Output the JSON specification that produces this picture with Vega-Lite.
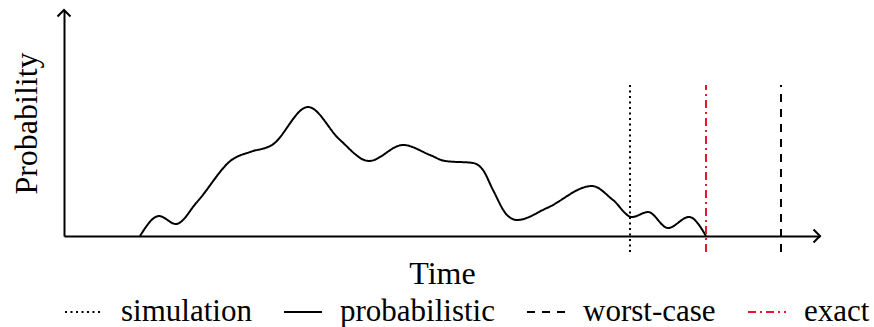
{
  "$schema": "https://vega.github.io/schema/vega-lite/v6.json",
  "width": 756,
  "height": 226,
  "autosize": {"type": "none"},
  "padding": {"left": 64, "top": 10, "right": 54, "bottom": 91},
  "background": "white",
  "config": {
    "view": {"stroke": null},
    "font": "Liberation Serif",
    "axis": {
      "domainColor": "black",
      "domainWidth": 2,
      "ticks": false,
      "labels": false,
      "grid": false,
      "titleFont": "Liberation Serif",
      "titleFontSize": 32,
      "titleFontWeight": "normal",
      "titleColor": "black"
    },
    "legend": {
      "labelFont": "'Liberation Serif', 'Times New Roman', serif",
      "labelFontSize": 31,
      "labelColor": "black",
      "labelFontWeight": "normal",
      "symbolType": "stroke",
      "symbolSize": 1444,
      "symbolStrokeWidth": 2,
      "labelOffset": 17,
      "columnPadding": 28,
      "labelLimit": 0,
      "padding": 0
    }
  },
  "datasets": {
    "curve": [
      {"series": "probabilistic", "t": 76, "p": 0},
      {"series": "probabilistic", "t": 95, "p": 20},
      {"series": "probabilistic", "t": 112, "p": 12},
      {"series": "probabilistic", "t": 133, "p": 34},
      {"series": "probabilistic", "t": 169, "p": 77},
      {"series": "probabilistic", "t": 186, "p": 84},
      {"series": "probabilistic", "t": 208, "p": 91},
      {"series": "probabilistic", "t": 244, "p": 129},
      {"series": "probabilistic", "t": 276, "p": 96},
      {"series": "probabilistic", "t": 305, "p": 75},
      {"series": "probabilistic", "t": 339, "p": 91},
      {"series": "probabilistic", "t": 366, "p": 81},
      {"series": "probabilistic", "t": 381, "p": 75},
      {"series": "probabilistic", "t": 409, "p": 73},
      {"series": "probabilistic", "t": 419, "p": 66},
      {"series": "probabilistic", "t": 429, "p": 46},
      {"series": "probabilistic", "t": 443, "p": 21},
      {"series": "probabilistic", "t": 453, "p": 16},
      {"series": "probabilistic", "t": 483, "p": 28},
      {"series": "probabilistic", "t": 528, "p": 50},
      {"series": "probabilistic", "t": 549, "p": 36},
      {"series": "probabilistic", "t": 568, "p": 19},
      {"series": "probabilistic", "t": 584, "p": 24},
      {"series": "probabilistic", "t": 604, "p": 8},
      {"series": "probabilistic", "t": 625, "p": 19},
      {"series": "probabilistic", "t": 642, "p": 0}
    ],
    "markers": [
      {"series": "simulation", "t": 566, "lo": -16, "hi": 151},
      {"series": "exact", "t": 642, "lo": -16, "hi": 151},
      {"series": "worst-case", "t": 717, "lo": -16, "hi": 151}
    ],
    "one": [{"k": 1}]
  },
  "layer": [
    {
      "data": {"name": "curve"},
      "mark": {"type": "line", "interpolate": "monotone", "strokeWidth": 2},
      "encoding": {
        "x": {"field": "t", "type": "quantitative", "title": "Time",
              "scale": {"domain": [0, 756], "nice": false, "zero": false},
              "axis": {"title": "Time", "titlePadding": 22}},
        "y": {"field": "p", "type": "quantitative", "title": "Probability",
              "scale": {"domain": [0, 226], "nice": false, "zero": false},
              "axis": {"title": "Probability", "titlePadding": 21}},
        "color": {"field": "series", "type": "nominal", "title": null,
                  "scale": {"domain": ["simulation", "probabilistic", "worst-case", "exact"],
                            "range": ["black", "black", "black", "#e8162e"]},
                  "legend": {"orient": "none", "legendX": 0, "legendY": 282, "direction": "horizontal",
                             "columns": 4, "title": null}},
        "strokeDash": {"field": "series", "type": "nominal", "title": null,
                       "scale": {"domain": ["simulation", "probabilistic", "worst-case", "exact"],
                                 "range": [[2, 3.5], [1, 0], [8, 7], [8, 4, 2, 4]]},
                       "legend": {"orient": "none", "legendX": 0, "legendY": 282, "direction": "horizontal",
                                  "columns": 4, "title": null}}
      }
    },
    {
      "data": {"name": "markers"},
      "mark": {"type": "rule", "strokeWidth": 2},
      "encoding": {
        "x": {"field": "t", "type": "quantitative", "title": "Time"},
        "y": {"field": "lo", "type": "quantitative", "title": "Probability"},
        "y2": {"field": "hi"},
        "color": {"field": "series", "type": "nominal", "title": null},
        "strokeDash": {"field": "series", "type": "nominal", "title": null}
      }
    },
    {
      "data": {"name": "one"},
      "mark": {"type": "point", "shape": "M -1 -1 L 0 0 L -1 1", "size": 169, "filled": false,
               "stroke": "black", "strokeWidth": 2, "opacity": 1},
      "encoding": {
        "x": {"datum": 756, "type": "quantitative", "title": "Time"},
        "y": {"datum": 0, "type": "quantitative", "title": "Probability"}
      }
    },
    {
      "data": {"name": "one"},
      "mark": {"type": "point", "shape": "M -1 1 L 0 0 L 1 1", "size": 169, "filled": false,
               "stroke": "black", "strokeWidth": 2, "opacity": 1},
      "encoding": {
        "x": {"datum": 0, "type": "quantitative", "title": "Time"},
        "y": {"datum": 226, "type": "quantitative", "title": "Probability"}
      }
    }
  ]
}
